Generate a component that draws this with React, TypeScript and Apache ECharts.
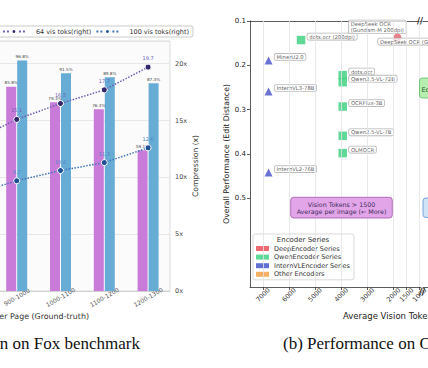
import React, { useEffect, useRef } from "react";
import * as echarts from "echarts";

// ---------- (a) Compression on Fox benchmark ----------
const textTokenBins = ["600-700", "700-800", "800-900", "900-1000", "1000-1100", "1100-1200", "1200-1300"];
const precision64 = [96.5, 93.8, 83.8, 85.8, 79.3, 76.3, 59.1];
const precision100 = [98.5, 97.3, 96.8, 96.8, 91.5, 89.8, 87.3];
const compression64 = [10.5, 11.8, 13.2, 15.1, 16.5, 17.7, 19.7];
const compression100 = [6.7, 7.5, 8.5, 9.7, 10.6, 11.3, 12.6];
const seriesNamesA = ["64 vis toks(left)", "100 vis toks(left)", "64 vis toks(right)", "100 vis toks(right)"];

// ---------- (b) Performance on OmniDocBench ----------
const encoderSeries = ["DeepEncoder Series", "QwenEncoder Series", "InternVLEncoder Series", "Other Encoders"];
const internvlModels = ["MinerU2.0", "InternVL3-78B", "InternVL2-76B"];
const internvlTokens = [6790, 6790, 6790];
const internvlED = [0.189, 0.259, 0.442];
const qwenModels = ["dots.ocr (200dpi)", "dots.ocr", "Qwen2.5-VL-72B", "OCRFlux-3B", "Qwen2.5-VL-7B", "OLMOCR"];
const qwenTokens = [5545, 3949, 3949, 3949, 3949, 3949];
const qwenED = [0.143, 0.222, 0.238, 0.293, 0.359, 0.398];
const deepLeftModels = ["DeepSeek OCR (Gundam-M 200dpi)"];
const deepLeftTokens = [1853];
const deepLeftED = [0.137];
const deepRightModels = ["DeepSeek OCR (Gundam)"];
const deepRightTokens = [795];
const deepRightED = [0.147];
const tokenTicks = [7000, 6000, 5000, 4000, 3000, 2000, 1500, 1000];
const edTicks = [0.1, 0.2, 0.3, 0.4, 0.5];

const OFF = 200;
const W = 800;
const H = 368;
const F = "DejaVu Sans";
const SERIF = "Liberation Serif";

const pts = (names: string[], xs: number[], ys: number[]) =>
  names.map((n, i) => ({ name: n, value: [xs[i], ys[i]] }));

export default function App() {
  const ref = useRef<HTMLDivElement>(null);
  useEffect(() => {
    if (!ref.current) return;
    const chart = echarts.init(ref.current, null, { renderer: "svg" });
    const X = (p: number) => p + OFF;

    const labelBox: any = {
      show: true,
      position: "right",
      distance: 2,
      offset: [0, -3.5],
      fontFamily: F,
      fontSize: 5.3,
      color: "#333",
      backgroundColor: "rgba(255,255,255,0.92)",
      borderColor: "#9a9a9a",
      borderWidth: 0.6,
      borderRadius: 1.5,
      padding: [1, 2, 0.5, 2],
      formatter: (p: any) => p.name,
    };

    const encoderColors = ["#e8434f", "#35d07f", "#3b4bc8", "#f39c3c"];
    const centered = { align: "center", verticalAlign: "middle", textAlign: "center", textVerticalAlign: "middle" };

    const option: any = {
      animation: false,
      backgroundColor: "#fff",
      textStyle: { fontFamily: F },
      grid: [
        { left: X(-136.6), top: 41, width: 306.6, height: 250, show: true, backgroundColor: "#fbfbfb", borderColor: "#d4d4d4", borderWidth: 0.8 },
        { left: X(250), top: 21, width: 171, height: 266 },
        { left: X(423), top: 21, width: 160, height: 266 },
      ],
      legend: [
        {
          data: seriesNamesA,
          orient: "horizontal",
          right: W - X(193),
          top: 26,
          itemWidth: 22,
          itemHeight: 6,
          itemGap: 4,
          padding: [2, 4, 2, 4],
          backgroundColor: "#fff",
          borderColor: "#bdbdbd",
          borderWidth: 0.8,
          borderRadius: 2,
          selectedMode: false,
          textStyle: { fontFamily: F, fontSize: 6.5, color: "#333", padding: [0, 0, 0, 6] },
        },
        {
          data: encoderSeries.map((n, i) => ({ name: n, icon: "rect", itemStyle: { color: encoderColors[i] } })),
          orient: "vertical",
          left: X(253),
          top: 234,
          itemWidth: 13,
          itemHeight: 5,
          itemGap: 1.6,
          padding: [11, 4, 2, 3],
          backgroundColor: "#fff",
          borderColor: "#cfcfcf",
          borderWidth: 0.8,
          borderRadius: 2,
          selectedMode: false,
          textStyle: { fontFamily: F, fontSize: 6.5, color: "#333" },
        },
      ],
      xAxis: [
        {
          type: "category",
          gridIndex: 0,
          data: textTokenBins,
          boundaryGap: true,
          axisLine: { lineStyle: { color: "#cccccc", width: 0.8 } },
          axisTick: { show: false },
          axisLabel: { rotate: 30, align: "center", verticalAlign: "middle", margin: 6, fontSize: 6, color: "#555", fontFamily: F },
          splitLine: { show: false },
        },
        {
          type: "value",
          gridIndex: 1,
          inverse: true,
          min: 950,
          max: 7500,
          axisLine: { show: true, lineStyle: { color: "#333", width: 0.8 } },
          axisTick: { show: true, customValues: tokenTicks, length: 3, lineStyle: { color: "#333", width: 0.8 } },
          axisLabel: {
            customValues: tokenTicks,
            formatter: (v: number) => String(v),
            rotate: 45,
            align: "center",
            verticalAlign: "middle",
            margin: 8,
            fontSize: 6.5,
            color: "#333",
            fontFamily: F,
          },
          splitLine: { show: false },
        },
        {
          type: "value",
          gridIndex: 1,
          position: "top",
          inverse: true,
          min: 950,
          max: 7500,
          axisLine: { show: true, lineStyle: { color: "#333", width: 0.8 } },
          axisTick: { show: false },
          axisLabel: { show: false },
          splitLine: { show: false },
        },
        {
          type: "value",
          gridIndex: 2,
          inverse: true,
          min: 0,
          max: 1000,
          axisLine: { show: true, lineStyle: { color: "#333", width: 0.8 } },
          axisTick: { show: false },
          axisLabel: { show: false },
          splitLine: { show: false },
        },
        {
          type: "value",
          gridIndex: 2,
          position: "top",
          inverse: true,
          min: 0,
          max: 1000,
          axisLine: { show: true, lineStyle: { color: "#333", width: 0.8 } },
          axisTick: { show: false },
          axisLabel: { show: false },
          splitLine: { show: false },
        },
      ],
      yAxis: [
        {
          type: "value",
          gridIndex: 0,
          position: "left",
          min: 0,
          max: 105,
          interval: 20,
          axisLine: { show: false },
          axisTick: { show: false },
          axisLabel: { formatter: "{value}%", fontSize: 6.5, color: "#444" },
          splitLine: { show: false },
        },
        {
          type: "value",
          gridIndex: 0,
          position: "right",
          min: 0,
          max: 22,
          interval: 5,
          axisLine: { show: false },
          axisTick: { show: false },
          axisLabel: { formatter: (v: number) => (v % 5 === 0 ? v + "x" : ""), fontSize: 6.5, color: "#444", margin: 5, fontFamily: F },
          splitLine: { show: true, lineStyle: { color: "#e2e2e2", width: 0.8 } },
          name: "Compression (x)",
          nameLocation: "middle",
          nameRotate: 90,
          nameGap: 17.5,
          nameTextStyle: { fontFamily: F, fontSize: 7.6, color: "#333" },
        },
        {
          type: "value",
          gridIndex: 1,
          inverse: true,
          min: 0.1,
          max: 0.7,
          axisLine: { show: true, lineStyle: { color: "#333", width: 0.8 } },
          axisTick: { show: true, customValues: edTicks, length: 3, lineStyle: { color: "#333", width: 0.8 } },
          axisLabel: { customValues: edTicks, formatter: (v: number) => v.toFixed(1), fontSize: 7, color: "#222", margin: 4, fontFamily: F },
          splitLine: { show: false },
          name: "Overall Performance (Edit Distance)",
          nameLocation: "middle",
          nameRotate: 90,
          nameGap: 17.5,
          nameTextStyle: { fontFamily: F, fontSize: 7.8, color: "#222" },
        },
        {
          type: "value",
          gridIndex: 2,
          inverse: true,
          min: 0.1,
          max: 0.7,
          interval: 0.1,
          axisLine: { show: false },
          axisTick: { show: true, length: 3.5, lineStyle: { color: "#333", width: 0.8 } },
          axisLabel: { show: false },
          splitLine: { show: false },
        },
      ],
      series: [
        {
          name: seriesNamesA[0],
          type: "bar",
          xAxisIndex: 0,
          yAxisIndex: 0,
          data: precision64,
          barWidth: 10,
          barGap: "10%",
          itemStyle: { color: "#c87bd9" },
          label: { show: true, position: "top", distance: 2, formatter: "{c}%", fontSize: 4.2, color: "#444", fontFamily: F },
        },
        {
          name: seriesNamesA[1],
          type: "bar",
          xAxisIndex: 0,
          yAxisIndex: 0,
          data: precision100,
          barWidth: 10,
          barGap: "10%",
          itemStyle: { color: "#67acd5" },
          label: { show: true, position: "top", distance: 2, formatter: "{c}%", fontSize: 4.2, color: "#444", fontFamily: F },
        },
        {
          name: seriesNamesA[2],
          type: "line",
          xAxisIndex: 0,
          yAxisIndex: 1,
          data: compression64,
          symbol: "circle",
          symbolSize: 6,
          itemStyle: { color: "#33286b", borderColor: "#fff", borderWidth: 1 },
          lineStyle: { color: "#6f5fb0", width: 1.5, type: "dotted" },
          label: { show: true, position: "top", distance: 3, fontSize: 5, color: "#6c5cb8", fontFamily: F },
          z: 5,
        },
        {
          name: seriesNamesA[3],
          type: "line",
          xAxisIndex: 0,
          yAxisIndex: 1,
          data: compression100,
          symbol: "circle",
          symbolSize: 6,
          itemStyle: { color: "#1f4f94", borderColor: "#fff", borderWidth: 1 },
          lineStyle: { color: "#3f74bb", width: 1.5, type: "dotted" },
          label: { show: true, position: "top", distance: 3, fontSize: 5, color: "#4f86c8", fontFamily: F },
          z: 5,
        },
        {
          type: "line",
          xAxisIndex: 1,
          yAxisIndex: 2,
          data: [],
          silent: true,
          z: 0,
          markLine: {
            silent: true,
            symbol: ["none", "none"],
            label: { show: false },
            lineStyle: { color: "#e3e3e3", width: 0.8, type: "solid" },
            data: tokenTicks.map((v) => ({ xAxis: v })),
          },
        },
        {
          name: encoderSeries[2],
          type: "scatter",
          xAxisIndex: 1,
          yAxisIndex: 2,
          symbol: "triangle",
          symbolSize: 8,
          itemStyle: { color: "#4450c6" },
          data: pts(internvlModels, internvlTokens, internvlED),
          label: labelBox,
          z: 3,
        },
        {
          name: encoderSeries[1],
          type: "scatter",
          xAxisIndex: 1,
          yAxisIndex: 2,
          symbol: "rect",
          symbolSize: 8.5,
          itemStyle: { color: "#38cf7c" },
          data: pts(qwenModels, qwenTokens, qwenED),
          label: labelBox,
          z: 3,
        },
        {
          name: encoderSeries[0],
          type: "scatter",
          xAxisIndex: 1,
          yAxisIndex: 2,
          symbol: "circle",
          symbolSize: 8,
          itemStyle: { color: "#e8606e" },
          data: pts(deepLeftModels, deepLeftTokens, deepLeftED),
          label: {
            ...labelBox,
            position: [-44.7, 0],
            offset: [0, 0],
            align: "left",
            verticalAlign: "bottom",
            lineHeight: 5.8,
            formatter: (p: any) => p.name.replace(" (", "\n("),
          },
          z: 3,
        },
        {
          name: encoderSeries[0],
          type: "scatter",
          xAxisIndex: 3,
          yAxisIndex: 3,
          symbol: "circle",
          symbolSize: 8,
          itemStyle: { color: "#e8606e" },
          data: pts(deepRightModels, deepRightTokens, deepRightED),
          label: { ...labelBox, position: [-73.8, 0.5], offset: [0, 0], align: "left", verticalAlign: "top" },
          z: 4,
        },
        {
          name: encoderSeries[3],
          type: "scatter",
          xAxisIndex: 3,
          yAxisIndex: 3,
          itemStyle: { color: encoderColors[3] },
          data: [],
        },
      ],
      graphic: [
        { type: "text", z: 10, x: X(420), y: 21, style: { text: "//", fontSize: 8, fontWeight: "bold", fill: "#222", fontFamily: F, ...centered } },
        { type: "text", z: 10, x: X(422), y: 292, style: { text: "//", fontSize: 8, fontWeight: "bold", fill: "#222", fontFamily: F, ...centered } },
        { type: "rect", z: 10, shape: { x: X(290.7), y: 197.3, width: 101.6, height: 20.7, r: 3 }, style: { fill: "#e2a6e8", stroke: "#a055a8", lineWidth: 0.8 } },
        { type: "text", z: 11, x: X(341.5), y: 207.7, style: { text: "Vision Tokens > 1500\nAverage per image (\u2190 More)", fontSize: 6.3, lineHeight: 7, fill: "#3c2a5a", fontFamily: F, ...centered } },
        { type: "rect", z: 10, shape: { x: X(419.5), y: 78, width: 110, height: 20, r: 3 }, style: { fill: "#b6eeb0", stroke: "#56bd62", lineWidth: 0.8 } },
        { type: "text", z: 11, x: X(421.5), y: 90, style: { text: "Edit Distance < 0.25", fontSize: 6.5, fill: "#1f5a2a", fontFamily: F, align: "left", verticalAlign: "middle", textAlign: "left", textVerticalAlign: "middle" } },
        { type: "rect", z: 10, shape: { x: X(423), y: 198, width: 110, height: 19.5, r: 3 }, style: { fill: "#cfe4f7", stroke: "#5b8ed0", lineWidth: 0.8 } },
        { type: "text", z: 11, x: X(478), y: 207.7, style: { text: "Vision Tokens < 1000\nAverage per image (\u2192 Fewer)", fontSize: 6.3, lineHeight: 7, fill: "#1f3a5a", fontFamily: F, ...centered } },
        { type: "text", z: 12, x: X(303), y: 240, style: { text: "Encoder Series", fontSize: 7, fill: "#333", fontFamily: F, ...centered } },
        { type: "text", z: 10, x: X(89), y: 316, style: { text: "Text Tokens Per Page (Ground-truth)", fontSize: 7.9, fill: "#333", fontFamily: F, align: "right", verticalAlign: "middle", textAlign: "right", textVerticalAlign: "middle" } },
        { type: "text", z: 10, x: X(343), y: 316, style: { text: "Average Vision Tokens per Image", fontSize: 8.5, fill: "#222", fontFamily: F, align: "left", verticalAlign: "middle", textAlign: "left", textVerticalAlign: "middle" } },
        { type: "text", z: 10, x: X(140), y: 343, style: { text: "(a) Compression on Fox benchmark", fontSize: 17, fill: "#111", fontFamily: SERIF, align: "right", verticalAlign: "middle", textAlign: "right", textVerticalAlign: "middle" } },
        { type: "text", z: 10, x: X(283), y: 343, style: { text: "(b) Performance on OmniDocBench", fontSize: 17, fill: "#111", fontFamily: SERIF, align: "left", verticalAlign: "middle", textAlign: "left", textVerticalAlign: "middle" } },
      ],
    };
    chart.setOption(option);
    return () => chart.dispose();
  }, []);

  return (
    <div style={{ position: "fixed", left: 0, top: 0, width: 428, height: H, overflow: "hidden", background: "#fff" }}>
      <div ref={ref} style={{ position: "absolute", left: -OFF, top: 0, width: W, height: H }} />
    </div>
  );
}
